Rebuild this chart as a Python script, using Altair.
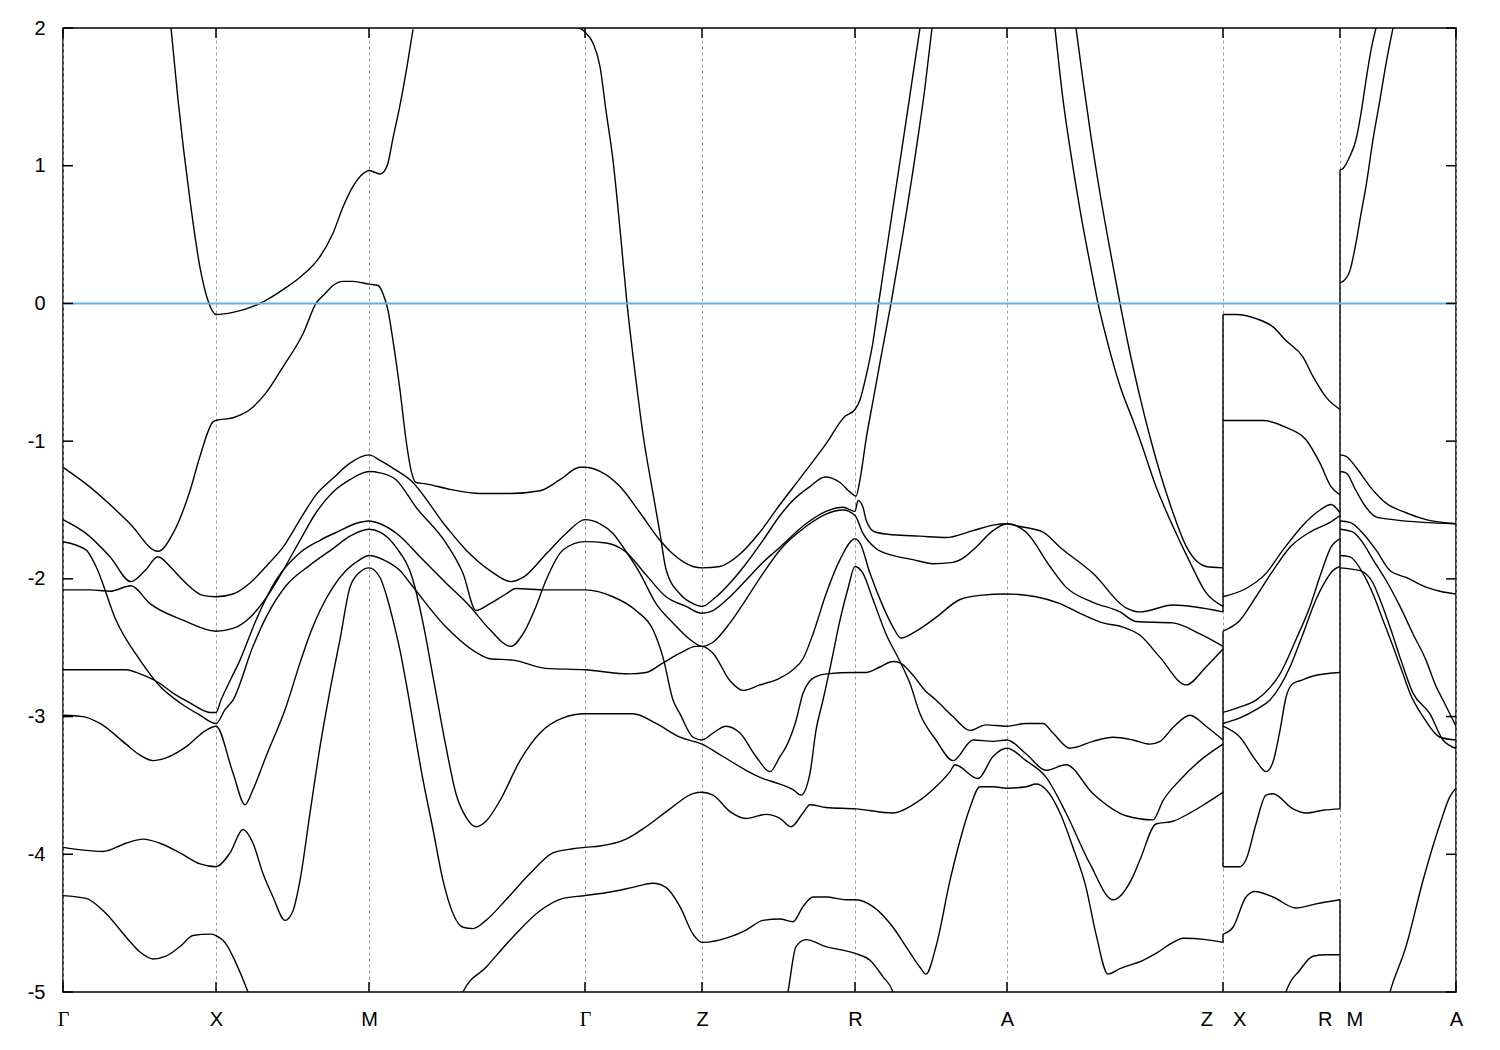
import altair as alt
import pandas as pd

# ---- high-symmetry points along the k-path ----
tick_k = [0, 153, 306, 522, 639, 792, 944, 1160, 1277, 1393]
tick_lab = ["Γ", "X", "M", "Γ", "Z", "R", "A", "Z\u2002\u2002X", "R\u2002\u2009M", "A"]
y_ticks = [-5, -4, -3, -2, -1, 0, 1, 2]

# ---- bands (k, energy in eV) ----
k_b1 = [108, 115, 127, 137, 146, 153, 170, 197, 224, 237, 257, 270, 280, 290, 304, 306, 317, 320, 325, 330, 337, 344, 350]
e_b1 = [2.0, 1.48, 0.75, 0.26, 0.0, -0.08, -0.065, 0.0, 0.12, 0.19, 0.34, 0.51, 0.70, 0.85, 0.96, 0.965, 0.94, 0.95, 1.02, 1.20, 1.44, 1.72, 1.99]

k_b2 = [0, 23, 47, 67, 95, 110, 127, 137, 150, 153, 170, 187, 203, 220, 240, 253, 262, 270, 280, 290,
        306, 315, 320, 325, 330, 337, 343, 348, 353, 363, 387, 417, 447, 477, 497, 517, 522, 537, 557, 577,
        597, 610, 630, 639, 657, 677, 697, 717, 737, 763, 782, 792, 797, 803, 810, 815, 823, 833, 843, 852, 857]
e_b2 = [-1.19, -1.31, -1.46, -1.60, -1.80, -1.67, -1.36, -1.11, -0.86, -0.85, -0.83, -0.77, -0.65, -0.46, -0.22,
        0.0, 0.07, 0.13, 0.16, 0.16, 0.14, 0.13, 0.07, -0.05, -0.27, -0.63, -0.99, -1.21, -1.30, -1.31,
        -1.35, -1.38, -1.38, -1.36, -1.28, -1.19, -1.19, -1.22, -1.33, -1.52, -1.72, -1.82, -1.91, -1.92, -1.91,
        -1.82, -1.66, -1.46, -1.27, -1.02, -0.82, -0.77, -0.70, -0.53, -0.28, -0.03, 0.36, 0.84, 1.32, 1.76, 2.0]

k_b3 = [0, 23, 47, 68, 82, 95, 107, 120, 140, 153, 170, 187, 203, 220, 237, 253, 270, 287, 306, 317,
        333, 347, 383, 403, 427, 448, 460, 483, 503, 522, 537, 550, 562, 577, 593, 610, 627, 639,
        650, 667, 683, 700, 717, 743, 763, 780, 792, 800, 813, 830, 850, 870, 890, 900, 913, 930, 944,
        963, 987, 1003, 1030, 1057, 1073, 1110, 1137, 1160]
e_b3 = [-1.57, -1.67, -1.84, -2.02, -1.94, -1.84, -1.91, -2.01, -2.12, -2.13, -2.11, -2.03, -1.91, -1.77, -1.57,
        -1.39, -1.27, -1.16, -1.10, -1.14, -1.21, -1.28, -1.62, -1.79, -1.94, -2.02, -1.99, -1.82, -1.67, -1.57,
        -1.60, -1.67, -1.79, -1.96, -2.18, -2.32, -2.44, -2.49,
        -2.46, -2.32, -2.15, -1.96, -1.79, -1.62, -1.53, -1.50, -1.54, -1.67, -1.78, -1.83, -1.86, -1.89, -1.88,
        -1.85, -1.77, -1.65, -1.60, -1.66, -1.91, -2.06, -2.17, -2.24, -2.31, -2.32, -2.40, -2.49]

k_b4 = [0, 27, 47, 68, 87, 120, 153, 170, 187, 203, 220, 237, 253, 270, 287, 306, 317, 333, 353, 383,
        400, 413, 427, 443, 453, 483, 522, 550, 573, 590, 600, 610, 617, 630, 639, 650, 663, 677, 693, 707,
        717, 723, 733, 740, 747, 753, 763, 792, 803, 817, 830, 837, 850, 862, 873, 890, 907, 923, 944, 963,
        980, 990, 1007, 1030, 1050, 1070, 1087, 1097, 1110, 1127, 1143, 1160]
e_b4 = [-2.08, -2.08, -2.09, -2.05, -2.18, -2.30, -2.38, -2.36, -2.28, -2.14, -1.94, -1.72, -1.52, -1.37, -1.28,
        -1.22, -1.23, -1.28, -1.48, -1.74, -1.96, -2.23, -2.18, -2.11, -2.07, -2.08, -2.08, -2.13, -2.23, -2.37,
        -2.57, -2.88, -2.98, -3.15, -3.17, -3.12, -3.07, -3.12, -3.29, -3.40, -3.29, -3.22, -3.03, -2.83, -2.74,
        -2.71, -2.69, -2.68, -2.68, -2.64, -2.60, -2.61, -2.70, -2.81, -2.88, -3.00, -3.10, -3.06, -3.07, -3.05,
        -3.05, -3.12, -3.23, -3.18, -3.15, -3.17, -3.20, -3.18, -3.08, -2.99, -3.07, -3.17]

k_b5 = [515, 519, 522, 530, 537, 543, 550, 557, 564, 572, 580, 590, 597, 603, 617, 630, 639, 650, 667, 683,
        700, 717, 730, 747, 762, 777, 787, 793, 797, 803, 812, 820, 828, 840, 853, 862, 869]
e_b5 = [2.0, 1.99, 1.97, 1.89, 1.72, 1.40, 1.04, 0.54, 0.0, -0.50, -0.95, -1.38, -1.67, -1.93, -2.11,
        -2.18, -2.20, -2.15, -2.03, -1.89, -1.72, -1.54, -1.43, -1.33, -1.26, -1.30, -1.37, -1.40, -1.28, -0.99,
        -0.63, -0.31, 0.0, 0.51, 1.11, 1.57, 2.0]

k_b6 = [0, 23, 33, 53, 77, 97, 117, 137, 153, 162, 170, 190, 203, 223, 247, 270, 287, 306, 317, 333,
        350, 360, 370, 383, 393, 403, 413, 423, 437, 457, 477, 500, 522, 550, 570, 593, 617, 639, 660, 683,
        700, 717, 730, 738, 747, 753, 760, 767, 777, 785, 792, 800, 810, 823, 837, 847, 857, 873, 890, 910,
        930, 944, 963, 983, 1003, 1030, 1063, 1090, 1100, 1117, 1137, 1160]
e_b6 = [-1.73, -1.79, -1.91, -2.30, -2.59, -2.78, -2.90, -2.99, -3.05, -2.95, -2.88, -2.49, -2.28, -2.05, -1.90,
        -1.78, -1.69, -1.64, -1.66, -1.77, -2.01, -2.32, -2.71, -3.22, -3.56, -3.73, -3.80, -3.76, -3.61, -3.32,
        -3.12, -3.01, -2.98, -2.98, -2.98, -3.05, -3.15, -3.20, -3.29, -3.39, -3.45, -3.49, -3.53, -3.57, -3.41,
        -3.10, -2.88, -2.65, -2.30, -2.07, -1.91, -1.96, -2.15, -2.40, -2.60, -2.76, -2.98, -3.17, -3.32, -3.17,
        -3.18, -3.17, -3.27, -3.39, -3.35, -3.56, -3.72, -3.75, -3.61, -3.46, -3.32, -3.20]

k_b7 = [0, 63, 77, 97, 110, 127, 147, 153, 158, 167, 177, 193, 213, 237, 257, 277, 292, 306, 317, 337,
        357, 383, 407, 427, 448, 460, 473, 483, 500, 522, 543, 562, 583, 603, 623, 639, 650, 667, 683, 700,
        717, 743, 763, 780, 792, 795, 800, 803, 812, 830, 857, 883, 910, 930, 944, 957, 980, 997, 1030, 1063,
        1077, 1110, 1160]
e_b7 = [-2.66, -2.66, -2.69, -2.76, -2.83, -2.90, -2.97, -2.97, -2.88, -2.74, -2.59, -2.30, -2.01, -1.81, -1.72,
        -1.65, -1.60, -1.58, -1.60, -1.69, -1.84, -2.03, -2.20, -2.37, -2.49, -2.40, -2.20, -2.01, -1.79, -1.73,
        -1.74, -1.80, -1.97, -2.13, -2.20, -2.25, -2.23, -2.13, -2.01, -1.88, -1.77, -1.60, -1.51, -1.48, -1.51,
        -1.43, -1.48, -1.57, -1.66, -1.68, -1.69, -1.70, -1.65, -1.61, -1.60, -1.62, -1.66, -1.77, -1.96, -2.21,
        -2.24, -2.19, -2.24]

k_b8 = [0, 20, 37, 63, 77, 90, 103, 123, 143, 153, 170, 182, 190, 203, 223, 237, 247, 257, 270, 283,
        297, 306, 320, 337, 347, 383, 417, 427, 450, 483, 522, 567, 583, 600, 617, 633, 639, 650, 667, 680,
        697, 717, 730, 740, 750, 763, 777, 792, 797, 807, 820, 830, 838, 853, 873, 897, 917, 944, 973, 997,
        1017, 1040, 1060, 1077, 1097, 1123, 1143, 1160]
e_b8 = [-2.99, -3.00, -3.05, -3.20, -3.28, -3.32, -3.30, -3.22, -3.10, -3.07, -3.41, -3.64, -3.53, -3.29, -2.93,
        -2.61, -2.40, -2.23, -2.06, -1.94, -1.86, -1.83, -1.86, -1.94, -2.03, -2.35, -2.55, -2.58, -2.59, -2.65,
        -2.66, -2.69, -2.68, -2.61, -2.54, -2.49, -2.49, -2.54, -2.74, -2.81, -2.77, -2.72, -2.66, -2.58, -2.40,
        -2.11, -1.86, -1.71, -1.74, -1.96, -2.20, -2.35, -2.43, -2.38, -2.28, -2.15, -2.12, -2.11, -2.13, -2.18,
        -2.25, -2.32, -2.35, -2.41, -2.57, -2.77, -2.64, -2.51]

k_b9 = [0, 20, 40, 63, 80, 97, 117, 137, 153, 167, 180, 190, 200, 210, 222, 230, 237, 247, 257, 267,
        277, 287, 297, 306, 317, 323, 330, 337, 343, 360, 370, 380, 390, 400, 410, 423, 443, 467, 490, 510,
        522, 537, 563, 583, 607, 630, 639, 650, 667, 683, 703, 717, 728, 740, 747, 763, 793, 830, 850, 870,
        887, 892, 915, 930, 944, 963, 983, 1003, 1027, 1050, 1070, 1077, 1093, 1110, 1127, 1143, 1160]
e_b9 = [-3.95, -3.97, -3.98, -3.92, -3.89, -3.92, -3.99, -4.07, -4.09, -3.99, -3.82, -3.92, -4.14, -4.31, -4.48,
        -4.41, -4.19, -3.70, -3.22, -2.81, -2.44, -2.06, -1.95, -1.92, -1.99, -2.11, -2.30, -2.52, -2.75, -3.46,
        -3.82, -4.19, -4.43, -4.53, -4.54, -4.48, -4.33, -4.14, -3.99, -3.96, -3.95, -3.94, -3.89, -3.80, -3.67,
        -3.56, -3.55, -3.57, -3.69, -3.74, -3.71, -3.74, -3.80, -3.70, -3.64, -3.66, -3.67, -3.70, -3.64, -3.53,
        -3.40, -3.35, -3.45, -3.29, -3.23, -3.32, -3.44, -3.70, -4.07, -4.33, -4.16, -4.04, -3.78, -3.76, -3.70,
        -3.63, -3.55]

k_b10 = [0, 23, 43, 63, 77, 90, 103, 117, 130, 147, 153, 163, 173, 185, 189]
e_b10 = [-4.30, -4.32, -4.43, -4.60, -4.71, -4.76, -4.74, -4.67, -4.59, -4.58, -4.59, -4.65, -4.79, -5.0, -5.08]

k_b11 = [397, 400, 423, 450, 477, 500, 522, 550, 570, 590, 603, 617, 630, 639, 667, 683, 700, 717, 730, 740,
         750, 763, 783, 793, 810, 830, 843, 857, 863, 873, 887, 897, 907, 917, 930, 944, 963, 973, 983, 997,
         1010, 1023, 1033, 1045, 1057, 1080, 1093, 1110, 1120, 1143, 1160]
e_b11 = [-5.08, -5.0, -4.82, -4.60, -4.41, -4.32, -4.30, -4.27, -4.24, -4.21, -4.24, -4.38, -4.58, -4.64, -4.60,
         -4.55, -4.48, -4.47, -4.49, -4.38, -4.31, -4.31, -4.33, -4.33, -4.38, -4.53, -4.67, -4.82, -4.87, -4.67,
         -4.19, -3.90, -3.66, -3.51, -3.51, -3.52, -3.51, -3.49, -3.53, -3.70, -3.95, -4.24, -4.58, -4.87, -4.83,
         -4.77, -4.72, -4.64, -4.61, -4.62, -4.64]

k_b12 = [723, 725, 733, 743, 763, 792, 807, 820, 830, 833]
e_b12 = [-5.08, -5.0, -4.67, -4.62, -4.67, -4.72, -4.77, -4.89, -5.0, -5.08]

k_b13 = [992, 1000, 1008, 1017, 1027, 1035, 1043, 1050, 1057, 1070, 1077, 1093, 1110, 1127, 1143, 1160]
e_b13 = [2.0, 1.48, 1.08, 0.68, 0.29, 0.0, -0.24, -0.43, -0.60, -0.85, -0.99, -1.33, -1.62, -1.88, -2.10, -2.20]

k_b14 = [1013, 1020, 1027, 1037, 1047, 1057, 1067, 1077, 1087, 1097, 1110, 1123, 1135, 1143, 1160]
e_b14 = [2.0, 1.62, 1.26, 0.80, 0.39, 0.0, -0.36, -0.68, -0.97, -1.23, -1.52, -1.76, -1.88, -1.91, -1.92]

# X -> R
k_xr1 = [1160, 1173, 1193, 1210, 1223, 1240, 1250, 1263, 1277]
e_xr1 = [-0.08, -0.08, -0.11, -0.17, -0.27, -0.39, -0.53, -0.68, -0.77]
k_xr2 = [1160, 1200, 1223, 1243, 1257, 1268, 1277]
e_xr2 = [-0.85, -0.85, -0.90, -0.99, -1.16, -1.33, -1.39]
k_xr3 = [1160, 1183, 1203, 1220, 1240, 1257, 1268, 1277]
e_xr3 = [-2.13, -2.07, -1.96, -1.79, -1.61, -1.50, -1.46, -1.52]
k_xr4 = [1160, 1177, 1193, 1210, 1227, 1247, 1267, 1277]
e_xr4 = [-2.38, -2.30, -2.13, -1.94, -1.77, -1.66, -1.59, -1.54]
k_xr5 = [1160, 1177, 1193, 1207, 1217, 1233, 1247, 1258, 1268, 1277]
e_xr5 = [-2.97, -2.93, -2.88, -2.79, -2.69, -2.44, -2.20, -1.96, -1.77, -1.71]
k_xr6 = [1160, 1177, 1193, 1207, 1227, 1240, 1253, 1263, 1270, 1277]
e_xr6 = [-3.05, -3.01, -2.95, -2.88, -2.64, -2.40, -2.15, -2.01, -1.94, -1.91]
k_xr7 = [1160, 1177, 1193, 1203, 1210, 1217, 1223, 1230, 1237, 1253, 1277]
e_xr7 = [-3.07, -3.15, -3.32, -3.40, -3.33, -3.10, -2.86, -2.76, -2.74, -2.70, -2.68]
k_xr8 = [1160, 1177, 1183, 1193, 1203, 1210, 1230, 1243, 1260, 1277]
e_xr8 = [-4.09, -4.09, -4.04, -3.78, -3.57, -3.56, -3.67, -3.70, -3.68, -3.67]
k_xr9 = [1160, 1170, 1183, 1192, 1210, 1233, 1253, 1277]
e_xr9 = [-4.58, -4.53, -4.31, -4.27, -4.31, -4.39, -4.36, -4.33]
k_xr10 = [1221, 1223, 1237, 1250, 1263, 1277]
e_xr10 = [-5.08, -5.0, -4.84, -4.74, -4.73, -4.73]

# M -> A
k_ma1 = [1277, 1280, 1287, 1293, 1298, 1303, 1308, 1313]
e_ma1 = [0.97, 0.98, 1.07, 1.19, 1.38, 1.62, 1.84, 2.0]
k_ma2 = [1277, 1280, 1287, 1293, 1298, 1303, 1310, 1317, 1323, 1330]
e_ma2 = [0.15, 0.16, 0.24, 0.44, 0.65, 0.85, 1.19, 1.48, 1.74, 2.0]
k_ma3 = [1277, 1283, 1293, 1307, 1323, 1343, 1363, 1393]
e_ma3 = [-1.10, -1.11, -1.19, -1.33, -1.45, -1.52, -1.57, -1.60]
k_ma4 = [1277, 1283, 1293, 1303, 1313, 1330, 1360, 1393]
e_ma4 = [-1.22, -1.23, -1.36, -1.48, -1.55, -1.57, -1.59, -1.60]
k_ma5 = [1277, 1287, 1300, 1313, 1327, 1343, 1363, 1377, 1393]
e_ma5 = [-1.58, -1.59, -1.67, -1.79, -1.94, -1.99, -2.06, -2.09, -2.11]
k_ma6 = [1277, 1290, 1300, 1310, 1323, 1337, 1350, 1363, 1373, 1380, 1393]
e_ma6 = [-1.64, -1.66, -1.74, -1.86, -2.01, -2.20, -2.40, -2.59, -2.78, -2.88, -3.07]
k_ma7 = [1277, 1287, 1300, 1310, 1320, 1330, 1340, 1347, 1360, 1377, 1393]
e_ma7 = [-1.83, -1.84, -1.96, -2.11, -2.30, -2.49, -2.69, -2.83, -3.00, -3.15, -3.17]
k_ma8 = [1277, 1297, 1310, 1317, 1327, 1337, 1350, 1367, 1380, 1393]
e_ma8 = [-1.92, -1.94, -2.03, -2.15, -2.35, -2.57, -2.83, -2.98, -3.17, -3.23]
k_ma9 = [1324, 1327, 1343, 1360, 1377, 1387, 1393]
e_ma9 = [-5.08, -5.0, -4.67, -4.19, -3.78, -3.58, -3.52]

# jumps at the path discontinuities Z|X and R|M
k_cz1, e_cz1 = [1160, 1160], [-0.08, -2.24]
k_cz2, e_cz2 = [1160, 1160], [-2.38, -4.09]
k_cz3, e_cz3 = [1160, 1160], [-4.58, -4.64]
k_cr1, e_cr1 = [1277, 1277], [0.97, -3.67]
k_cr2, e_cr2 = [1277, 1277], [-4.33, -5.1]
k_hk, e_hk = [0, 3], [1.985, 2.03]

bands = {
    "b1": (k_b1, e_b1), "b2": (k_b2, e_b2), "b3": (k_b3, e_b3), "b4": (k_b4, e_b4),
    "b5": (k_b5, e_b5), "b6": (k_b6, e_b6), "b7": (k_b7, e_b7), "b8": (k_b8, e_b8),
    "b9": (k_b9, e_b9), "b10": (k_b10, e_b10), "b11": (k_b11, e_b11), "b12": (k_b12, e_b12),
    "b13": (k_b13, e_b13), "b14": (k_b14, e_b14),
    "xr1": (k_xr1, e_xr1), "xr2": (k_xr2, e_xr2), "xr3": (k_xr3, e_xr3), "xr4": (k_xr4, e_xr4),
    "xr5": (k_xr5, e_xr5), "xr6": (k_xr6, e_xr6), "xr7": (k_xr7, e_xr7), "xr8": (k_xr8, e_xr8),
    "xr9": (k_xr9, e_xr9), "xr10": (k_xr10, e_xr10),
    "ma1": (k_ma1, e_ma1), "ma2": (k_ma2, e_ma2), "ma3": (k_ma3, e_ma3), "ma4": (k_ma4, e_ma4),
    "ma5": (k_ma5, e_ma5), "ma6": (k_ma6, e_ma6), "ma7": (k_ma7, e_ma7), "ma8": (k_ma8, e_ma8),
    "ma9": (k_ma9, e_ma9),
    "cz1": (k_cz1, e_cz1), "cz2": (k_cz2, e_cz2), "cz3": (k_cz3, e_cz3),
    "cr1": (k_cr1, e_cr1), "cr2": (k_cr2, e_cr2), "hk": (k_hk, e_hk),
}

rows = []
for name, (ks, es) in bands.items():
    assert len(ks) == len(es), (name, len(ks), len(es))
    for i, (k, e) in enumerate(zip(ks, es)):
        rows.append({"k": k, "E": e, "band": name, "i": i})
df = pd.DataFrame(rows)

W, H = 1393, 964
FONT = "Liberation Sans"

label_expr = " : ".join(
    f"datum.value == {k} ? '{lab}'" for k, lab in zip(tick_k, tick_lab)
) + " : ''"

xscale = alt.Scale(domain=[0, 1393], nice=False, zero=False)
yscale = alt.Scale(domain=[-5, 2], nice=False, zero=False)

x_axis = alt.Axis(
    values=tick_k, labelExpr=label_expr, grid=True, gridDash=[3, 3], gridColor="#9a9a9a",
    gridWidth=1, ticks=False, domain=False, labelPadding=17, labelFontSize=20,
    labelFont={"condition": {"test": "datum.value == 0 || datum.value == 522", "value": "Liberation Serif"},
               "value": FONT},
    labelColor="black", labelAngle=0, title=None, labelOverlap=False, labelFlush=False,
)
y_axis = alt.Axis(
    values=y_ticks, labelExpr="'' + datum.value", grid=False, ticks=False, domain=False,
    labelPadding=18, labelFontSize=20, labelFont=FONT, labelColor="black", title=None,
)

lines = alt.Chart(df).mark_line(
    color="black", strokeWidth=1.4, interpolate="monotone", clip=True
).encode(
    x=alt.X("k:Q", scale=xscale, axis=x_axis),
    y=alt.Y("E:Q", scale=yscale, axis=y_axis),
    detail="band:N",
)

zero = alt.Chart(pd.DataFrame({"E": [0]})).mark_rule(color="#56b4e9", strokeWidth=2).encode(
    y=alt.Y("E:Q", scale=yscale)
)

ydf = pd.DataFrame({"E": y_ticks})
xdf = pd.DataFrame({"k": tick_k})
tick_style = dict(color="black", strokeWidth=1.5)
yt_left = alt.Chart(ydf).mark_rule(**tick_style).encode(
    y=alt.Y("E:Q", scale=yscale), x=alt.value(0), x2=alt.value(10))
yt_right = alt.Chart(ydf).mark_rule(**tick_style).encode(
    y=alt.Y("E:Q", scale=yscale), x=alt.value(W - 10), x2=alt.value(W))
xt_top = alt.Chart(xdf).mark_rule(**tick_style).encode(
    x=alt.X("k:Q", scale=xscale), y=alt.value(0), y2=alt.value(10))
xt_bot = alt.Chart(xdf).mark_rule(**tick_style).encode(
    x=alt.X("k:Q", scale=xscale), y=alt.value(H - 10), y2=alt.value(H))

chart = alt.layer(lines, zero, yt_left, yt_right, xt_top, xt_bot).properties(
    width=W, height=H,
    autosize=alt.AutoSizeParams(type="none"),
    padding={"left": 55, "top": 20, "right": 30, "bottom": 50},
    background="white",
).configure_view(stroke="black", strokeWidth=1.5)

chart.save("out.html", embed_options={"renderer": "svg", "actions": False})
